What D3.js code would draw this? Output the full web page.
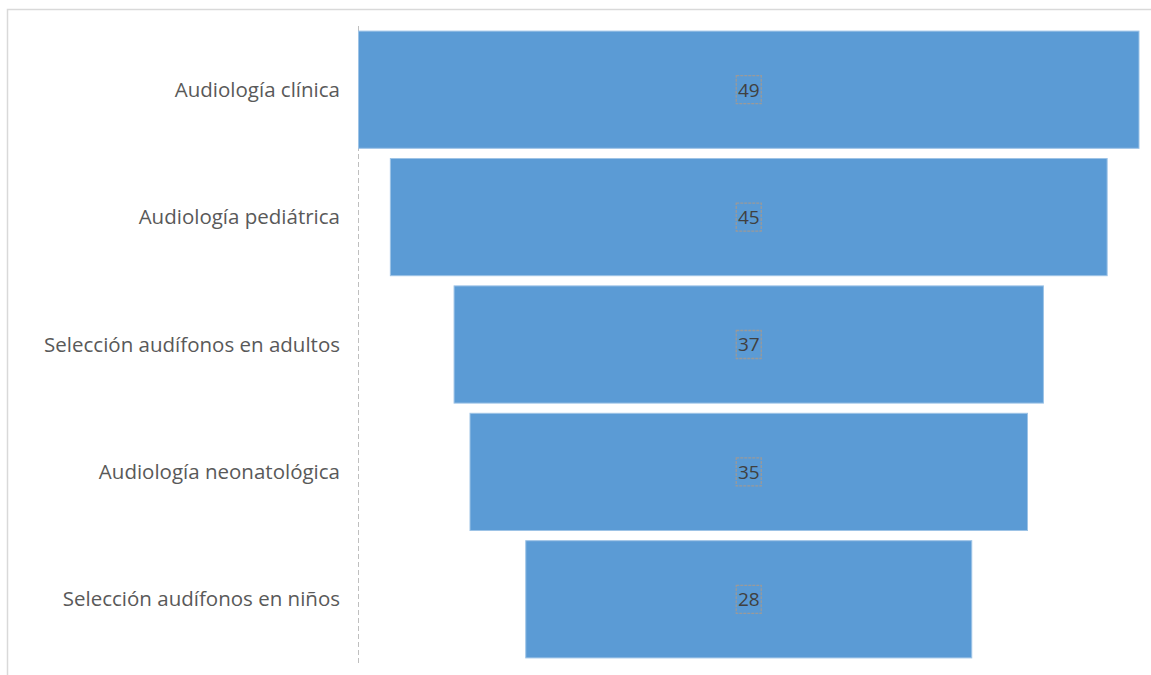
<!DOCTYPE html>
<html><head><meta charset="utf-8">
<script src="https://cdn.jsdelivr.net/npm/d3@7"></script>
<style>body{margin:0;background:#fff}svg{display:block}</style>
</head><body>
<svg id="c" width="1151" height="675"></svg>
<script>
const categories = ["Audiología clínica","Audiología pediátrica","Selección audífonos en adultos","Audiología neonatológica","Selección audífonos en niños"];
const values = [49,45,37,35,28];

const svg = d3.select("#c");
// chart border
svg.append("rect").attr("x",7.5).attr("y",9.5).attr("width",1160).attr("height",700)
  .attr("fill","none").attr("stroke","#d9d9d9").attr("stroke-width",1.5);

const axisX = 358.5, right = 1139;
const center = (axisX + right)/2;
const w = d3.scaleLinear().domain([0, d3.max(values)]).range([0, right - axisX]);
const y = d3.scaleBand().domain(categories).range([26, 663]).paddingInner(0.08).paddingOuter(0.04);

// axis line
svg.append("line").attr("x1",axisX).attr("x2",axisX).attr("y1",26).attr("y2",663)
  .attr("stroke","#bfbfbf").attr("stroke-width",1).attr("stroke-dasharray","5,3");

svg.selectAll("rect.bar").data(values).join("rect").attr("class","bar")
  .attr("x",(d)=>center - w(d)/2).attr("y",(d,i)=>y(categories[i]))
  .attr("width",d=>w(d)).attr("height",y.bandwidth())
  .attr("fill","#5b9bd5").attr("stroke","#9dc3e6").attr("stroke-width",1);

// category labels
svg.selectAll("text.cat").data(categories).join("text").attr("class","cat")
  .attr("x",340).attr("y",d=>y(d)+y.bandwidth()/2).attr("dy","0.35em")
  .attr("text-anchor","end").attr("fill","#595959")
  .style("font-family","'Open Sans',sans-serif").style("font-size","20.5px")
  .text(d=>d);

// data labels with dashed box
const lg = svg.selectAll("g.lbl").data(values).join("g").attr("class","lbl")
  .attr("transform",(d,i)=>`translate(${center},${y(categories[i])+y.bandwidth()/2})`);
lg.append("rect").attr("x",-12.5).attr("y",-14).attr("width",25).attr("height",28)
  .attr("fill","none").attr("stroke","#9a9a9a").attr("stroke-width",1.3).attr("stroke-dasharray","3,1");
lg.append("text").attr("text-anchor","middle").attr("dy","0.36em").attr("fill","#404040")
  .style("font-family","'Open Sans',sans-serif").style("font-size","19px").text(d=>d);
</script>
</body></html>
